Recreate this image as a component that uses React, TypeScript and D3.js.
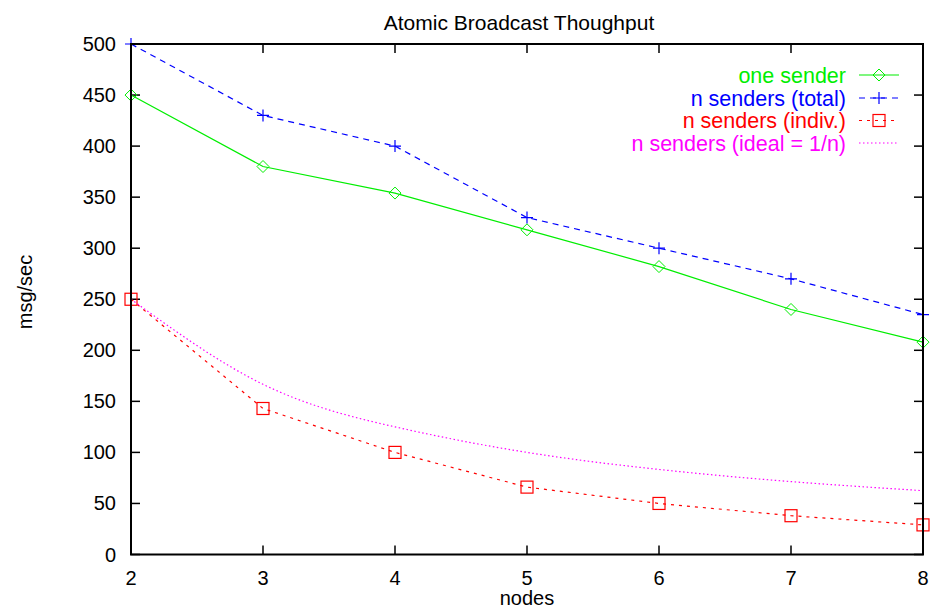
import React from "react";
import * as d3 from "d3";

const nodes = [2, 3, 4, 5, 6, 7, 8];
const oneSender = [450, 380, 354, 318, 282, 240, 208];
const nTotal = [500, 430, 400, 330, 300, 270, 235];
const nIndiv = [250, 143, 100, 66, 50, 38, 29];
const nIdeal = [250, 166.7, 125, 100, 83.3, 71.4, 62.5];
const yTicks = [0, 50, 100, 150, 200, 250, 300, 350, 400, 450, 500];
const xTicks = [2, 3, 4, 5, 6, 7, 8];

const W = 930, H = 608;
const L = 131, R = 923, T = 44, B = 554.5;
const FONT = "'Liberation Sans', Arial, Helvetica, sans-serif";

export default function App() {
  const x = d3.scaleLinear().domain([2, 8]).range([L, R]);
  const y = d3.scaleLinear().domain([0, 500]).range([B, T]);
  const line = d3.line<number>().x((_, i) => x(nodes[i])).y((d) => y(d));
  const smooth = d3.line<number>().x((_, i) => x(nodes[i])).y((d) => y(d)).curve(d3.curveNatural);

  const series = [
    { name: "one sender", data: oneSender, color: "#00ee00", dash: "", marker: "diamond", gen: line },
    { name: "n senders (total)", data: nTotal, color: "#0000ff", dash: "6,5", marker: "plus", gen: line },
    { name: "n senders (indiv.)", data: nIndiv, color: "#ff0000", dash: "3,5", marker: "square", gen: line },
    { name: "n senders (ideal = 1/n)", data: nIdeal, color: "#ff00ff", dash: "1.5,2.5", marker: "none", gen: smooth },
  ];

  const marker = (m: string, cx: number, cy: number, c: string, k: string) => {
    const s = 6;
    if (m === "diamond")
      return <path key={k} d={`M${cx - s},${cy}L${cx},${cy - s}L${cx + s},${cy}L${cx},${cy + s}Z`} fill="none" stroke={c} strokeWidth={1} />;
    if (m === "plus")
      return <path key={k} d={`M${cx - s},${cy}H${cx + s}M${cx},${cy - s}V${cy + s}`} fill="none" stroke={c} strokeWidth={1.2} />;
    if (m === "square")
      return <rect key={k} x={cx - s} y={cy - s} width={2 * s} height={2 * s} fill="none" stroke={c} strokeWidth={1.2} />;
    return null;
  };

  const tick = 9;
  const legendY = [75, 98, 120.5, 143];

  return (
    <svg width={W} height={H} style={{ position: "absolute", left: 0, top: 0, background: "#fff" }} fontFamily={FONT}>
      <rect x={0} y={0} width={W} height={H} fill="#fff" />
      <text x={519} y={30} textAnchor="middle" fontSize={21}>Atomic Broadcast Thoughput</text>
      {/* ticks */}
      {yTicks.map((t) => (
        <g key={"y" + t}>
          <line x1={L} x2={L + tick} y1={y(t)} y2={y(t)} stroke="#000" strokeWidth={1.5} />
          <line x1={R} x2={R - tick} y1={y(t)} y2={y(t)} stroke="#000" strokeWidth={1.5} />
          <text x={116} y={y(t) + 7} textAnchor="end" fontSize={20}>{t}</text>
        </g>
      ))}
      {xTicks.map((t) => (
        <g key={"x" + t}>
          <line x1={x(t)} x2={x(t)} y1={B} y2={B - tick} stroke="#000" strokeWidth={1.5} />
          <line x1={x(t)} x2={x(t)} y1={T} y2={T + tick} stroke="#000" strokeWidth={1.5} />
          <text x={x(t)} y={585} textAnchor="middle" fontSize={20}>{t}</text>
        </g>
      ))}
      <text x={527} y={605} textAnchor="middle" fontSize={20}>nodes</text>
      <text transform="translate(32,292) rotate(-90)" textAnchor="middle" fontSize={20}>msg/sec</text>
      {/* series */}
      {series.map((s) => (
        <g key={s.name}>
          <path d={s.gen(s.data) || ""} fill="none" stroke={s.color} strokeWidth={1.2} strokeDasharray={s.dash} />
          {s.data.map((v, i) => marker(s.marker, x(nodes[i]), y(v), s.color, s.name + i))}
        </g>
      ))}
      {/* legend */}
      {series.map((s, i) => (
        <g key={"lg" + s.name}>
          <text x={846} y={legendY[i] + 7.5} textAnchor="end" fontSize={21.5} fill={s.color}>{s.name}</text>
          <line x1={859} x2={899} y1={legendY[i]} y2={legendY[i]} stroke={s.color} strokeWidth={1.2} strokeDasharray={s.dash} />
          {marker(s.marker, 879, legendY[i], s.color, "lm" + i)}
        </g>
      ))}
      <rect x={L} y={T} width={R - L} height={B - T} fill="none" stroke="#000" strokeWidth={2} />
    </svg>
  );
}
